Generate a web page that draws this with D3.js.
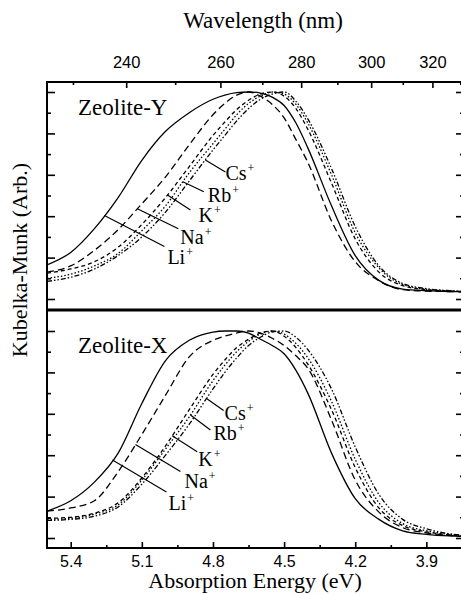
<!DOCTYPE html>
<html>
<head>
<meta charset="utf-8">
<script src="https://cdn.jsdelivr.net/npm/d3@7"></script>
<style>
body { margin: 0; background: #fff; }
svg { display: block; }
</style>
</head>
<body>
<script>
// energy grid (eV) shared by every spectrum
var energy = [5.5, 5.4, 5.3, 5.2, 5.1, 5.0, 4.9, 4.8, 4.75, 4.7, 4.65, 4.6, 4.55, 4.5, 4.45, 4.4, 4.3, 4.2, 4.1, 4.0, 3.9, 3.8, 3.75];

// Zeolite-Y, normalised Kubelka-Munk
var liY = [.165, .225, .34, .49, .67, .81, .90, .965, .985, .997, 1.0, .995, .975, .935, .85, .73, .45, .21, .09, .048, .04, .036, .035];
var naY = [.13, .16, .235, .335, .46, .59, .745, .89, .945, .985, 1.0, .98, .94, .875, .77, .66, .377, .18, .088, .045, .038, .036, .035];
var kY  = [.125, .145, .18, .25, .36, .49, .64, .79, .855, .915, .96, .99, 1.0, .98, .92, .82, .56, .29, .13, .065, .045, .038, .036];
var rbY = [.10, .12, .16, .22, .33, .45, .61, .75, .82, .89, .945, .98, 1.0, .99, .94, .85, .60, .32, .15, .07, .047, .039, .036];
var csY = [.085, .105, .145, .21, .30, .42, .57, .72, .79, .86, .92, .965, .99, 1.0, .955, .87, .63, .35, .16, .075, .05, .04, .037];

// Zeolite-X
var liX = [.13, .18, .27, .41, .65, .857, .955, .995, 1.0, 1.0, .99, .96, .93, .89, .81, .70, .41, .19, .09, .035, .018, .01, .008];
var naX = [.13, .145, .18, .32, .50, .69, .875, .955, .975, .99, 1.0, .99, .965, .93, .88, .82, .57, .28, .125, .05, .025, .012, .008];
var kX  = [.095, .10, .12, .17, .29, .445, .62, .79, .86, .92, .96, .99, 1.0, .975, .92, .84, .62, .34, .145, .06, .03, .015, .01];
var rbX = [.09, .095, .115, .16, .28, .43, .585, .76, .835, .90, .95, .985, 1.0, .985, .94, .87, .66, .38, .17, .07, .035, .017, .012];
var csX = [.085, .09, .105, .15, .26, .40, .55, .72, .80, .87, .93, .97, .995, 1.0, .97, .91, .72, .44, .21, .09, .045, .02, .015];

var ions = ["Li", "Na", "K", "Rb", "Cs"];
var dashes = [null, "7,4", "4,3", "1.5,2", "5,2,1.5,2,1.5,2"];

// energy where each label's leader line touches its curve
var leadY = [5.258, 5.119, 4.992, 4.927, 4.832];
var leadX = [5.224, 5.127, 4.972, 4.895, 4.827];

var energyTicks = [5.4, 5.1, 4.8, 4.5, 4.2, 3.9];
var energyMinor = [5.25, 4.95, 4.65, 4.35, 4.05];
var wavelengthTicks = [240, 260, 280, 300, 320];
var wavelengthMinor = [230, 250, 270, 290, 310, 330];
var kmTicks = [0, 0.2, 0.4, 0.6, 0.8, 1.0];
var kmMinor = [0.1, 0.3, 0.5, 0.7, 0.9];

var hc = 1239.84; // eV nm

var width = 461, height = 595;
var frameL = 47, frameR = 464, frameT = 82, frameM = 310, frameB = 548;

var serif = "'Liberation Serif', 'Times New Roman', serif";
var sans = "'Liberation Sans', Arial, sans-serif";

var svg = d3.select("body").append("svg")
    .attr("width", width)
    .attr("height", height);

var x = d3.scaleLinear().domain([5.5, 3.74]).range([frameL, 464.3]);

// leader end = start + off, label = end + lab
var panels = [
    {name: "Zeolite-Y", series: [liY, naY, kY, rbY, csY], lead: leadY,
     y: d3.scaleLinear().domain([0, 1]).range([299, 92]), y0: frameT, y1: frameM,
     off: [[60, 31], [41, 20], [23, 15], [21, 10], [20, 12]],
     lab: [[3, 17], [2, 15], [8, 12], [4, 10], [0, 8]], titleY: 115},
    {name: "Zeolite-X", series: [liX, naX, kX, rbX, csX], lead: leadX,
     y: d3.scaleLinear().domain([0, 1]).range([538, 331]), y0: frameM, y1: frameB,
     off: [[54, 32], [45, 27], [25, 16], [20, 15], [17, 12]],
     lab: [[2, 18], [4, 16], [1, 14], [3, 10], [1, 10]], titleY: 353}
];

function valueAt(series, e) {
    for (var i = 0; i < energy.length - 1; i++) {
        if (e <= energy[i] && e >= energy[i + 1]) {
            var t = (energy[i] - e) / (energy[i] - energy[i + 1]);
            return series[i] + (series[i + 1] - series[i]) * t;
        }
    }
    return series[series.length - 1];
}

function styleTicks(g) {
    g.select(".domain").remove();
    g.selectAll(".tick line").attr("stroke", "#000").attr("stroke-width", 1.6);
    g.selectAll(".tick text").attr("fill", "#000");
}

panels.forEach(function(p, pi) {
    svg.append("clipPath").attr("id", "clip" + pi)
        .append("rect")
        .attr("x", frameL).attr("y", p.y0)
        .attr("width", frameR - frameL).attr("height", p.y1 - p.y0);

    var line = d3.line()
        .x(function(d, i) { return x(energy[i]); })
        .y(function(d) { return p.y(d); })
        .curve(d3.curveMonotoneX);

    svg.append("g").attr("clip-path", "url(#clip" + pi + ")")
        .selectAll("path")
        .data(p.series)
        .enter()
        .append("path")
        .attr("d", line)
        .attr("fill", "none")
        .attr("stroke", "#000")
        .attr("stroke-width", 1.3)
        .attr("stroke-dasharray", function(d, i) { return dashes[i]; });

    // y ticks, inward on both sides
    svg.append("g").attr("transform", "translate(" + frameL + ",0)")
        .call(d3.axisLeft(p.y).tickValues(kmTicks).tickSize(-8).tickFormat(""))
        .call(styleTicks);
    svg.append("g").attr("transform", "translate(" + frameL + ",0)")
        .call(d3.axisLeft(p.y).tickValues(kmMinor).tickSize(-4).tickFormat(""))
        .call(styleTicks);
    svg.append("g").attr("transform", "translate(" + frameR + ",0)")
        .call(d3.axisRight(p.y).tickValues(kmTicks).tickSize(-8).tickFormat(""))
        .call(styleTicks);
    svg.append("g").attr("transform", "translate(" + frameR + ",0)")
        .call(d3.axisRight(p.y).tickValues(kmMinor).tickSize(-4).tickFormat(""))
        .call(styleTicks);

    svg.append("text")
        .attr("x", 78)
        .attr("y", p.titleY)
        .style("font-family", serif)
        .style("font-size", "23px")
        .text(p.name);

    // leader lines and ion labels
    ions.forEach(function(ion, i) {
        var sx = x(p.lead[i]);
        var sy = p.y(valueAt(p.series[i], p.lead[i]));
        var ex = sx + p.off[i][0], ey = sy + p.off[i][1];
        svg.append("line")
            .attr("x1", sx).attr("y1", sy)
            .attr("x2", ex).attr("y2", ey)
            .attr("stroke", "#000")
            .attr("stroke-width", 1.2);
        var t = svg.append("text")
            .attr("x", ex + p.lab[i][0])
            .attr("y", ey + p.lab[i][1])
            .style("font-family", serif)
            .style("font-size", "20px");
        t.append("tspan").text(ion);
        t.append("tspan")
            .attr("dx", 1)
            .attr("dy", -8)
            .style("font-size", "12px")
            .text("+");
    });
});

// bottom energy axis
svg.append("g").attr("transform", "translate(0," + frameB + ")")
    .call(d3.axisBottom(x).tickValues(energyTicks).tickSize(-6).tickPadding(8)
        .tickFormat(d3.format(".1f")))
    .call(styleTicks)
    .call(function(g) {
        g.selectAll("text").style("font-family", sans).style("font-size", "16px");
    });
svg.append("g").attr("transform", "translate(0," + frameB + ")")
    .call(d3.axisBottom(x).tickValues(energyMinor).tickSize(-3).tickFormat(""))
    .call(styleTicks);

// top wavelength axis
svg.append("g").attr("transform", "translate(0," + frameT + ")")
    .call(d3.axisTop(x)
        .tickValues(wavelengthTicks.map(function(l) { return hc / l; }))
        .tickFormat(function(d, i) { return wavelengthTicks[i]; })
        .tickSize(-6).tickPadding(14))
    .call(styleTicks)
    .call(function(g) {
        g.selectAll("text").style("font-family", sans).style("font-size", "16.5px");
    });
svg.append("g").attr("transform", "translate(0," + frameT + ")")
    .call(d3.axisTop(x)
        .tickValues(wavelengthMinor.map(function(l) { return hc / l; }))
        .tickSize(-3).tickFormat(""))
    .call(styleTicks);

// frame and divider
svg.append("rect")
    .attr("x", frameL).attr("y", frameT)
    .attr("width", frameR - frameL).attr("height", frameB - frameT)
    .attr("fill", "none")
    .attr("stroke", "#000")
    .attr("stroke-width", 2);
svg.append("line")
    .attr("x1", frameL).attr("x2", frameR)
    .attr("y1", frameM).attr("y2", frameM)
    .attr("stroke", "#000")
    .attr("stroke-width", 3);

// axis titles
svg.append("text")
    .attr("x", 263).attr("y", 28)
    .attr("text-anchor", "middle")
    .style("font-family", serif)
    .style("font-size", "23px")
    .text("Wavelength (nm)");

svg.append("text")
    .attr("x", 255).attr("y", 588)
    .attr("text-anchor", "middle")
    .style("font-family", serif)
    .style("font-size", "22px")
    .text("Absorption Energy (eV)");

svg.append("text")
    .attr("transform", "translate(27,260) rotate(-90)")
    .attr("text-anchor", "middle")
    .style("font-family", serif)
    .style("font-size", "22px")
    .text("Kubelka-Munk (Arb.)");
</script>
</body>
</html>
